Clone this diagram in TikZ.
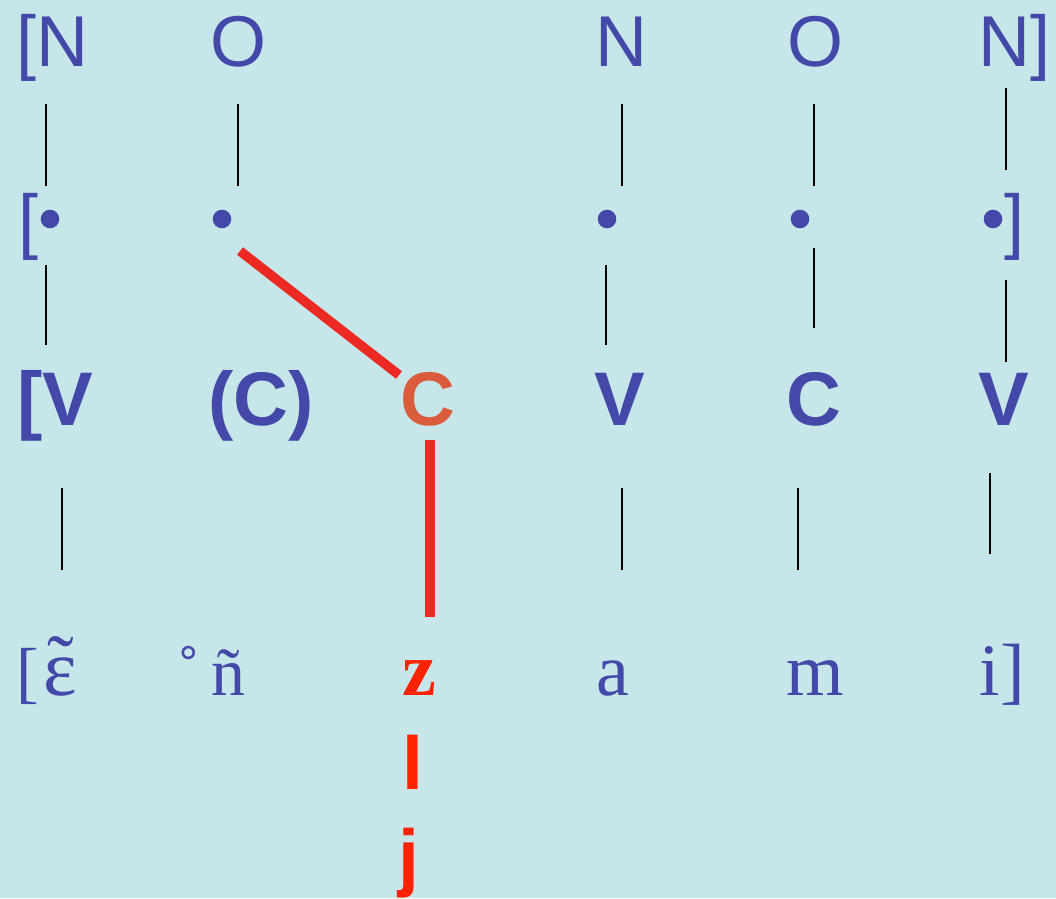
\documentclass[tikz,border=0pt]{standalone}
\usepackage{fontspec}
\setmainfont{Liberation Serif}
\setsansfont{Liberation Sans}
\definecolor{bgblue}{RGB}{198,230,233}
\definecolor{ink}{RGB}{68,72,168}
\definecolor{linkred}{RGB}{237,41,35}
\definecolor{corange}{RGB}{219,92,60}
\definecolor{segred}{RGB}{255,34,0}
\newcommand{\fsz}[1]{\fontsize{#1}{#1}\selectfont}
% nasal vowel: spacing tilde centred over the letter
\newcommand{\nasal}[1]{\leavevmode\setbox0\hbox{#1}\rlap{\hbox to\wd0{\hss\raisebox{5pt}{˜}\hss}}\box0}
\tikzset{
  tier/.style={inner sep=0pt, text=ink, font=\sffamily\fsz{72}},
  skel/.style={inner sep=0pt, text=ink, font=\sffamily\bfseries\fsz{76}},
  phone/.style={inner sep=0pt, text=ink, font=\rmfamily\fsz{68}},
  phonebig/.style={inner sep=0pt, text=ink, font=\rmfamily\fsz{74}},
  xdot/.style={circle, fill=ink, inner sep=0pt, minimum size=18.6pt},
  stem/.style={draw=black, line width=1.6pt},
  assoc/.style={draw=linkred, line width=9.5pt},
}
\begin{document}
\begin{tikzpicture}[x=1pt,y=-1pt]
  \fill[bgblue] (0,0) rectangle (1056,898);
  \useasboundingbox (0,0) rectangle (1056,898);

  % onset / nucleus tier
  \node[tier, anchor=base west] (n1) at (16,66) {[N};
  \node[tier, anchor=base] (o1) at (238,66) {O};
  \node[tier, anchor=base] (n2) at (621,66) {N};
  \node[tier, anchor=base] (o2) at (815,66) {O};
  \node[tier, anchor=base east] (n3) at (1051,66) {N]};

  % timing slots
  \node[tier, anchor=base west] (lb) at (18,245) {[};
  \node[xdot] (d1) at (50,219) {};
  \node[xdot] (d2) at (222,219) {};
  \node[xdot] (d3) at (607,219) {};
  \node[xdot] (d4) at (800,219) {};
  \node[xdot] (d5) at (993,219) {};
  \node[tier, anchor=base east] (rb) at (1025,245) {]};

  % CV skeleton
  \node[skel, anchor=base west] (s1) at (17,425) {[V};
  \node[skel, anchor=base] (s2) at (261,425) {(C)};
  \node[skel, anchor=base, text=corange] (s3) at (428,425) {C};
  \node[skel, anchor=base] (s4) at (620,425) {V};
  \node[skel, anchor=base] (s5) at (814,425) {C};
  \node[skel, anchor=base] (s6) at (1004,425) {V};

  % segments
  \node[phone, anchor=base west] (p1) at (16,695) {[\kern5pt{\fsz{80}\nasal{ɛ}}};
  \node[phone, anchor=base west] (p2) at (177,695) {˚\kern12ptñ};
  \node[inner sep=0pt, anchor=base, text=segred, font=\rmfamily\bfseries\fsz{76}] (p3) at (419,695) {z};
  \node[phonebig, anchor=base] (p4) at (613,695) {a};
  \node[phonebig, anchor=base] (p5) at (815,695) {m};
  \node[phonebig, anchor=base east] (p6) at (1025,695) {i]};
  \node[inner sep=0pt, anchor=base, text=segred, font=\sffamily\bfseries\fsz{75}] (l1) at (412.5,789) {l};
  \node[inner sep=0pt, anchor=base, text=segred, font=\sffamily\bfseries\fsz{75}] (j1) at (409,882) {j};

  % association lines
  \foreach \x/\a/\b [count=\i] in {
      46/104/186, 238/104/186, 622/104/186, 814/104/186, 1006/88/170,
      46/265/345, 606/265/345, 814/248/328, 1006/280/362,
      62/488/570, 622/488/570, 798/488/570, 990/473/554} {
    \coordinate (top\i) at (\x,\a);
    \coordinate (bot\i) at (\x,\b);
    \draw[stem] (top\i) -- (bot\i);
  }

  % spreading of the consonant slot
  \coordinate (sprA) at (240,251);
  \coordinate (sprB) at (399,375);
  \draw[assoc] (sprA) -- (sprB);
  \coordinate (zTop) at (430,440);
  \coordinate (zBot) at (430,617);
  \draw[assoc] (zTop) -- (zBot);
\end{tikzpicture}
\end{document}
